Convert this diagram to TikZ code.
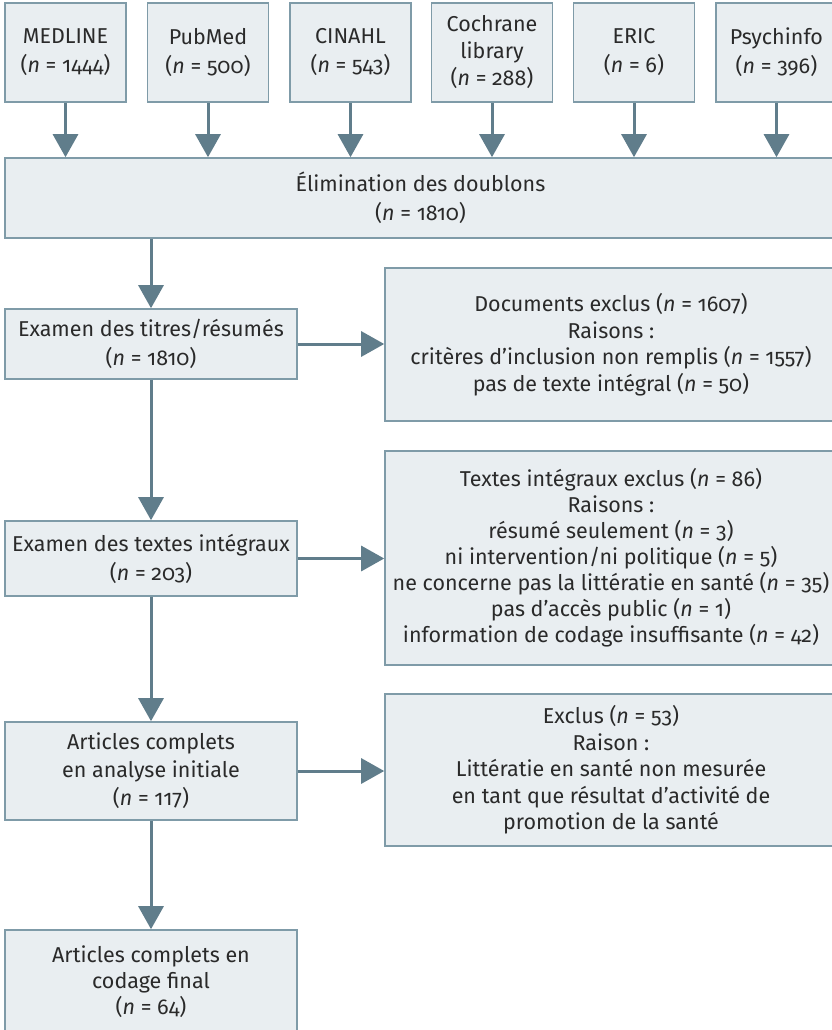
\documentclass[tikz,border=0pt]{standalone}
\usepackage{fontspec}
\setmainfont{Fira Sans}[Numbers=OldStyle]
\usetikzlibrary{arrows.meta}
\definecolor{boxfill}{HTML}{E9EEF1}
\definecolor{boxline}{HTML}{7F9BA8}
\definecolor{arrcol}{HTML}{607D8B}
\definecolor{txt}{HTML}{2A2A2A}
\newcommand{\nn}[1]{(\textit{n} = #1)}
\begin{document}
\begin{tikzpicture}[x=1pt,y=-1pt,
  box/.style={draw=boxline, line width=1.6pt, fill=boxfill, text=txt,
    align=center, inner sep=0pt, font=\fontsize{21.5}{26.5}\selectfont},
  wide/.style={font=\fontsize{21.5}{29}\selectfont},
  src/.style={box, wide, minimum width=121pt, minimum height=99pt},
  arr/.style={draw=arrcol, line width=3pt, -{Triangle[width=25pt,length=23pt]}}]
\useasboundingbox (0,0) rectangle (832,1030);
\clip (0,0) rectangle (832,1030);
% top sources
\node[src] (med) at (65.5,52.5) {MEDLINE\\\nn{1444}};
\node[src] (pub) at (208,52.5) {PubMed\\\nn{500}};
\node[src] (cin) at (350.5,52.5) {CINAHL\\\nn{543}};
\node[src, font=\fontsize{21.5}{27}\selectfont] (coc) at (492,52.5) {Cochrane\\library\\\nn{288}};
\node[src] (eri) at (634,52.5) {ERIC\\\nn{6}};
\node[src] (psy) at (776.5,52.5) {Psychinfo\\\nn{396}};
% elimination
\node[box, wide, minimum width=831pt, minimum height=80pt] (elim) at (420.5,198) {Élimination des doublons\\\nn{1810}};
% left column
\node[box, wide, minimum width=292pt, minimum height=70pt] (tit) at (151,344) {Examen des titres/résumés\\\nn{1810}};
\node[box, wide, minimum width=292pt, minimum height=75pt] (tex) at (151,558.5) {Examen des textes intégraux\\\nn{203}};
\node[box, font=\fontsize{21.5}{28}\selectfont, minimum width=292pt, minimum height=98pt] (art) at (151,771) {Articles complets\\en analyse initiale\\\nn{117}};
\node[box, font=\fontsize{21.5}{26}\selectfont, minimum width=292pt, minimum height=104pt] (fin) at (151,982) {Articles complets en\\codage final\\\nn{64}};
% right column
\node[box, minimum width=452pt, minimum height=153pt] (ex1) at (611,344.5) {Documents exclus \nn{1607}\\Raisons :\\critères d’inclusion non remplis \nn{1557}\\pas de texte intégral \nn{50}};
\node[box, font=\fontsize{21.5}{26}\selectfont, minimum width=452pt, minimum height=214pt] (ex2) at (611,558) {Textes intégraux exclus \nn{86}\\Raisons :\\résumé seulement \nn{3}\\ni intervention/ni politique \nn{5}\\ne concerne pas la littératie en santé \nn{35}\\pas d’accès public \nn{1}\\information de codage insuffisante \nn{42}};
\node[box, minimum width=452pt, minimum height=152pt] (ex3) at (611,770) {Exclus \nn{53}\\Raison :\\Littératie en santé non mesurée\\en tant que résultat d’activité de\\promotion de la santé};
% arrows
\foreach \s in {med,pub,cin,coc,eri,psy}
  \draw[arr] (\s.south) -- (\s.south |- elim.north);
\draw[arr] (tit.north |- elim.south) -- (tit.north);
\draw[arr] (tit.south) -- (tex.north);
\draw[arr] (tex.south) -- (art.north);
\draw[arr] (art.south) -- (fin.north);
\draw[arr] (tit.east) -- (tit.east -| ex1.west);
\draw[arr] (tex.east) -- (tex.east -| ex2.west);
\draw[arr] (art.east) -- (art.east -| ex3.west);
\end{tikzpicture}
\end{document}
